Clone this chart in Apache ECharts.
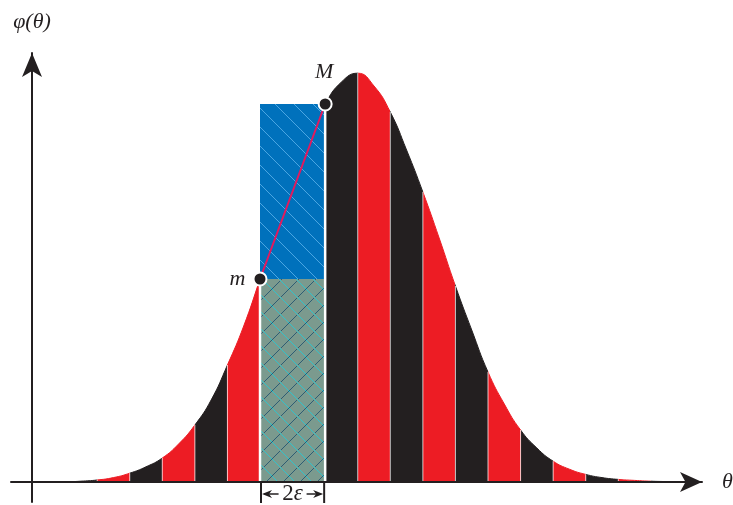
<!DOCTYPE html>
<html>
<head>
<meta charset="utf-8">
<script src="https://cdn.jsdelivr.net/npm/echarts@6/dist/echarts.min.js"></script>
<style>
html, body { margin: 0; background: #fff; }
#main { width: 733px; height: 505px; }
</style>
</head>
<body>
<div id="main"></div>
<script>
// curve: theta in strip widths, phi with the peak near 1
var thetaValues = [1, 1.5, 2, 2.5, 3, 3.5, 4, 4.5, 5, 5.5, 6, 6.5, 7, 7.5, 8, 8.5, 9, 9.5, 10, 10.5, 11, 11.5, 12, 12.5, 13, 13.5, 14, 14.5, 15, 15.5, 16, 16.5, 17, 17.5, 18, 18.5, 19, 19.5, 20];
var phiValues = [0, 0.002, 0.005, 0.011, 0.022, 0.038, 0.06, 0.095, 0.1425, 0.205, 0.2925, 0.39, 0.5075, 0.63, 0.75, 0.86, 0.945, 1.0, 1.022, 0.99, 0.925, 0.83, 0.725, 0.61, 0.49, 0.38, 0.275, 0.195, 0.13, 0.085, 0.052, 0.032, 0.019, 0.011, 0.0065, 0.004, 0.002, 0.001, 0];
var stripStart = 0, stripEnd = 21;   // strips of width 1 between integer thetas
var rectEdges = [7, 9];              // the 2ε interval
var pointLabels = ['m', 'M'];

var RED = '#ED1C24', BLACK = '#231F20';

var curve = thetaValues.map(function (t, i) { return [t, phiValues[i]]; });
function phiAt(t) { return phiValues[thetaValues.indexOf(t)]; }
var mPoint = [rectEdges[0], phiAt(rectEdges[0])];
var MPoint = [rectEdges[1], phiAt(rectEdges[1])];

var pieces = [];
for (var k = stripStart; k < stripEnd; k++) {
	pieces.push({ gte: k, lt: k + 1, color: k % 2 === 0 ? RED : BLACK });
}

// boundaries between strips, skipping the ones hidden by the rectangles
var bounds = curve.filter(function (p) {
	return p[0] % 1 === 0 && !(p[0] > rectEdges[0] && p[0] < rectEdges[1]);
});

var rectData = [
	[rectEdges[0], rectEdges[1], 0, mPoint[1]],
	[rectEdges[0], rectEdges[1], mPoint[1], MPoint[1]]
];
var rectStyles = [
	{ fill: '#7B9A8E', hatches: [{ dir: 1, color: '#2F5D74', gap: 17 }, { dir: -1, color: '#33C2C9', gap: 17 }] },
	{ fill: '#0071BC', hatches: [{ dir: -1, color: '#4BA6E2', gap: 19 }] }
];

function hatchLines(x0, y0, x1, y1, h) {
	var out = [];
	var style = { stroke: h.color, lineWidth: 1 };
	if (h.dir === -1) { // "\"  y = x + c
		var cMin = Math.floor((y0 - x1) / h.gap) * h.gap;
		for (var c = cMin; c <= y1 - x0; c += h.gap) {
			var xa = Math.max(x0, y0 - c), xb = Math.min(x1, y1 - c);
			if (xb > xa) out.push({ type: 'line', shape: { x1: xa, y1: xa + c, x2: xb, y2: xb + c }, style: style });
		}
	} else { // "/"  y = c - x
		var dMin = Math.floor((x0 + y0) / h.gap) * h.gap;
		for (var d = dMin; d <= x1 + y1; d += h.gap) {
			var xa2 = Math.max(x0, d - y1), xb2 = Math.min(x1, d - y0);
			if (xb2 > xa2) out.push({ type: 'line', shape: { x1: xa2, y1: d - xa2, x2: xb2, y2: d - xb2 }, style: style });
		}
	}
	return out;
}

function renderRect(params, api) {
	var lo = api.coord([api.value(0), api.value(2)]);
	var hi = api.coord([api.value(1), api.value(3)]);
	var x0 = lo[0], x1 = hi[0], y0 = hi[1], y1 = lo[1];
	var st = rectStyles[params.dataIndex];
	var children = [{ type: 'rect', shape: { x: x0, y: y0, width: x1 - x0, height: y1 - y0 }, style: { fill: st.fill } }];
	st.hatches.forEach(function (h) {
		children = children.concat(hatchLines(x0, y0, x1, y1, h));
	});
	return { type: 'group', children: children };
}

function renderBound(params, api) {
	var t = api.value(0);
	var top = api.coord([t, api.value(1)]);
	var base = api.coord([t, 0]);
	var edge = rectEdges.indexOf(t) >= 0;
	return {
		type: 'line',
		shape: { x1: top[0], y1: top[1], x2: base[0], y2: base[1] },
		style: { stroke: edge ? '#fff' : 'rgba(255,255,255,0.75)', lineWidth: edge ? 2.5 : 1 }
	};
}

function renderSpan(params, api) {
	var a = api.coord([api.value(0), 0]);
	var b = api.coord([api.value(1), 0]);
	var y = a[1] + 12, cx = (a[0] + b[0]) / 2;
	var s = { stroke: BLACK, lineWidth: 1.5 };
	return {
		type: 'group',
		children: [
			{ type: 'line', shape: { x1: a[0] + 1, y1: a[1], x2: a[0] + 1, y2: a[1] + 21 }, style: { stroke: BLACK, lineWidth: 2 } },
			{ type: 'line', shape: { x1: b[0] - 1, y1: b[1], x2: b[0] - 1, y2: b[1] + 21 }, style: { stroke: BLACK, lineWidth: 2 } },
			{ type: 'line', shape: { x1: a[0] + 4, y1: y, x2: cx - 14, y2: y }, style: s },
			{ type: 'line', shape: { x1: cx + 14, y1: y, x2: b[0] - 4, y2: y }, style: s },
			{ type: 'polygon', shape: { points: [[a[0] + 2, y], [a[0] + 12, y - 4], [a[0] + 9, y], [a[0] + 12, y + 4]] }, style: { fill: BLACK } },
			{ type: 'polygon', shape: { points: [[b[0] - 2, y], [b[0] - 12, y - 4], [b[0] - 9, y], [b[0] - 12, y + 4]] }, style: { fill: BLACK } },
			{
				type: 'text', x: cx, y: y,
				style: {
					text: '{a|2}{b|ε}', align: 'center', verticalAlign: 'middle',
					rich: {
						a: { fontFamily: 'Liberation Serif', fontSize: 23, fill: BLACK },
						b: { fontFamily: 'Liberation Serif', fontStyle: 'italic', fontSize: 23, fill: BLACK }
					}
				}
			}
		]
	};
}

var serifItalic = { fontFamily: 'Liberation Serif', fontStyle: 'italic', fontSize: 22, color: BLACK };
var axisLineStyle = { color: BLACK, width: 2 };

var option = {
	animation: false,
	backgroundColor: '#fff',
	grid: { left: 11, right: 31, top: 53, bottom: 3, outerBoundsMode: 'none' },
	xAxis: {
		type: 'value', min: -0.645, max: 20.57, z: 10,
		name: 'θ', nameLocation: 'end', nameGap: 20,
		nameTextStyle: Object.assign({ verticalAlign: 'middle' }, serifItalic),
		axisLine: { onZero: true, symbol: ['none', 'arrow'], symbolSize: [15, 22], lineStyle: axisLineStyle },
		axisTick: { show: false }, axisLabel: { show: false }, splitLine: { show: false }
	},
	yAxis: {
		type: 'value', min: -0.05, max: 1.0725, z: 10,
		name: 'φ(θ)', nameLocation: 'end', nameGap: 20,
		nameTextStyle: serifItalic,
		axisLine: { onZero: true, symbol: ['none', 'arrow'], symbolSize: [15, 24], lineStyle: axisLineStyle },
		axisTick: { show: false }, axisLabel: { show: false }, splitLine: { show: false }
	},
	visualMap: { show: false, type: 'piecewise', dimension: 0, seriesIndex: 0, pieces: pieces },
	series: [
		{
			type: 'line', data: curve, smooth: 0.5, symbol: 'none', z: 2,
			lineStyle: { width: 1 }, areaStyle: { opacity: 1 }
		},
		{ type: 'custom', data: rectData, renderItem: renderRect, z: 3, silent: true },
		{ type: 'custom', data: bounds, renderItem: renderBound, z: 4, silent: true },
		{
			type: 'line', data: [mPoint, MPoint], symbol: 'none', z: 5,
			lineStyle: { color: '#E3195D', width: 2 }
		},
		{
			type: 'scatter', z: 6, symbolSize: 13,
			itemStyle: { color: BLACK, borderColor: '#fff', borderWidth: 2, opacity: 1 },
			data: [
				{ value: mPoint, label: { show: true, position: 'left', distance: 7, offset: [0, 0] } },
				{ value: MPoint, label: { show: true, position: 'top', distance: 13, offset: [-1, 0] } }
			],
			label: Object.assign({ formatter: function (p) { return pointLabels[p.dataIndex]; } }, serifItalic)
		},
		{ type: 'custom', data: [rectEdges], renderItem: renderSpan, z: 6, silent: true }
	]
};

var myChart = echarts.init(document.getElementById('main'));
myChart.setOption(option);
</script>
</body>
</html>
